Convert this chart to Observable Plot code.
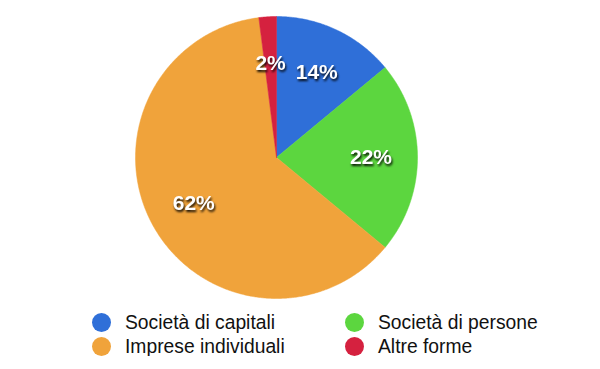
<!DOCTYPE html>
<html>
<head>
<meta charset="utf-8">
<script src="https://cdn.jsdelivr.net/npm/d3@7"></script>
<script src="https://cdn.jsdelivr.net/npm/@observablehq/plot@0.6"></script>
<style>
  body { margin: 0; background: #fff; font-family: "Liberation Sans", Arial, sans-serif; }
  #wrap { width: 600px; }
  .shadowed text { filter: drop-shadow(1px 2px 1.3px rgba(0,0,0,0.9)); }
  #legend { display: grid; grid-template-columns: 253px 220px; padding-left: 92px; margin-top: 8px; row-gap: 5px; }
  .item { display: flex; align-items: center; font-size: 19.3px; color: #111; height: 19px; white-space: nowrap; }
  .sw { width: 19px; height: 19px; border-radius: 50%; margin-right: 14px; flex: none; }
</style>
</head>
<body>
<div id="wrap"></div>
<script>
const categories = ["Società di capitali", "Società di persone", "Imprese individuali", "Altre forme"];
const values = [14, 22, 62, 2];
const labels = ["14%", "22%", "62%", "2%"];
const colors = ["#2f6fd8", "#5cd63f", "#f0a33b", "#d5213f"];
const legendOrder = ["Società di capitali", "Società di persone", "Imprese individuali", "Altre forme"];

const pie = d3.pie().sort(null).value(d => d)(values);

// slice outlines in data units (unit circle, clockwise from 12 o'clock)
const slicePts = [];
pie.forEach((p, i) => {
  const a0 = p.startAngle, a1 = p.endAngle;
  const n = Math.max(2, Math.ceil((a1 - a0) / (Math.PI / 360)));
  slicePts.push({cat: categories[i], x: 0, y: 0});
  for (let k = 0; k <= n; k++) {
    const a = a0 + (a1 - a0) * k / n;
    slicePts.push({cat: categories[i], x: Math.sin(a), y: Math.cos(a)});
  }
  slicePts.push({cat: categories[i], x: 0, y: 0});
});

const labelR = 0.67;
const labelPts = pie.map((p, i) => {
  const a = (p.startAngle + p.endAngle) / 2;
  return {label: labels[i], x: labelR * Math.sin(a), y: labelR * Math.cos(a)};
});

const chart = Plot.plot({
  width: 600,
  height: 305,
  marginLeft: 135,
  marginRight: 183,
  marginTop: 16,
  marginBottom: 7,
  x: {domain: [-1, 1], axis: null},
  y: {domain: [-1, 1], axis: null},
  color: {domain: categories, range: colors},
  marks: [
    Plot.line(slicePts, {x: "x", y: "y", z: "cat", fill: "cat", stroke: "cat", strokeWidth: 0.5, curve: "linear"}),
    Plot.text(labelPts, {x: "x", y: "y", text: "label", fill: "white", fontSize: 21, fontWeight: "bold",
      fontFamily: "Liberation Sans, Arial, sans-serif", className: "shadowed"})
  ]
});
document.getElementById("wrap").appendChild(chart);

const legend = document.createElement("div");
legend.id = "legend";
legendOrder.forEach(name => {
  const i = categories.indexOf(name);
  const it = document.createElement("div");
  it.className = "item";
  const sw = document.createElement("span");
  sw.className = "sw";
  sw.style.background = colors[i];
  it.appendChild(sw);
  it.appendChild(document.createTextNode(name));
  legend.appendChild(it);
});
document.getElementById("wrap").appendChild(legend);
</script>
</body>
</html>
